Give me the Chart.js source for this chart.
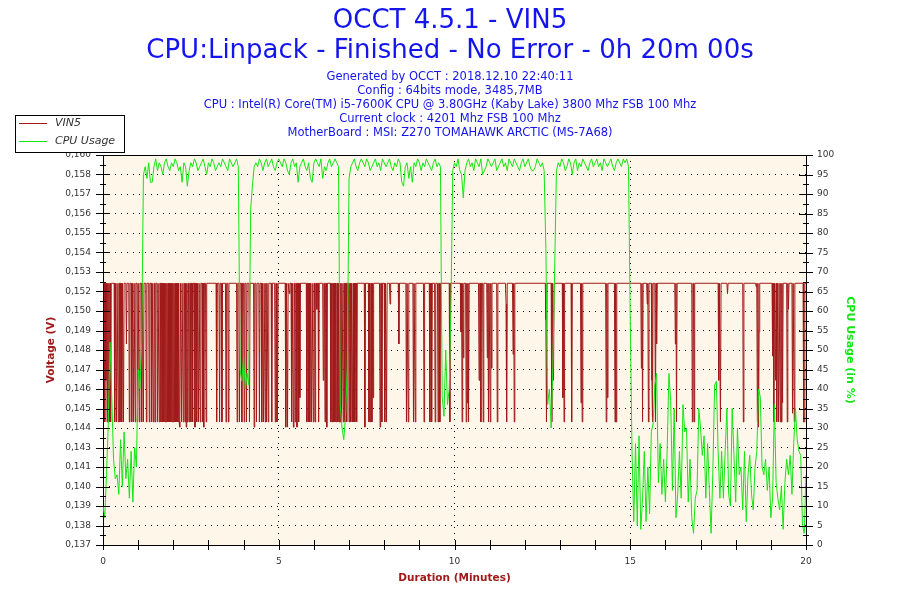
<!DOCTYPE html>
<html>
<head>
<meta charset="utf-8">
<title>OCCT 4.5.1 - VIN5</title>
<script src="https://cdn.jsdelivr.net/npm/chart.js@4.4.1/dist/chart.umd.min.js"></script>
<style>
  html, body { margin: 0; padding: 0; background: #fff; }
  canvas { display: block; }
</style>
</head>
<body>
<canvas id="chart" width="900" height="600"></canvas>
<script>
// header texts
const titleLines = ['OCCT 4.5.1 - VIN5', 'CPU:Linpack - Finished - No Error - 0h 20m 00s'];
const infoLines = [
  'Generated by OCCT : 2018.12.10 22:40:11',
  'Config : 64bits mode, 3485,7MB',
  'CPU : Intel(R) Core(TM) i5-7600K CPU @ 3.80GHz (Kaby Lake) 3800 Mhz FSB 100 Mhz',
  'Current clock : 4201 Mhz FSB 100 Mhz',
  'MotherBoard : MSI: Z270 TOMAHAWK ARCTIC (MS-7A68)'
];

// left axis: 20 equal steps, labels rounded the way OCCT prints them
const voltMin = 0.137;
const voltMax = 0.1595;
const voltTickLabels = ['0,137', '0,138', '0,139', '0,140', '0,141', '0,143', '0,144', '0,145', '0,146', '0,147',
  '0,148', '0,149', '0,150', '0,152', '0,153', '0,154', '0,155', '0,156', '0,157', '0,158', '0,160'];

const durationMax = 20;
const durationLabels = [0, 5, 10, 15, 20];

// VIN5 in volts: resting level, and the one-second drops (seconds from start)
const vinIdle = 0.1521;
const vinFullDrop = 0.1441;
const vinDropSec = [
  3, 7, 9, 11, 13, 20, 23, 26, 29, 32, 35, 45, 49, 52, 55, 59, 62, 66, 69, 74, 79, 83, 86, 89, 93, 96, 99, 102,
  104, 106, 108, 110, 112, 114, 116, 118, 120, 122, 124, 126, 128, 130, 134, 137, 140, 144, 147, 150, 153, 160,
  163, 166, 170, 176, 194, 199, 203, 210, 214, 229, 233, 237, 241, 245, 250, 262, 267, 271, 274, 277, 279, 282,
  288, 294, 297,
  322, 328, 334, 348, 351, 353, 356, 359, 362, 368, 379, 389, 391, 394, 396, 398, 401, 403, 405, 407, 410, 413,
  416, 420, 423, 426, 428, 430, 433, 454, 456, 459, 476, 481, 484, 518, 521, 530, 533, 548, 558, 561, 567, 572, 575,
  592, 613, 620, 624, 645, 649, 658, 661, 673, 689, 702, 757, 766, 787, 800, 818, 859, 874, 876,
  921, 931, 938, 943, 979, 1006, 1009, 1054, 1093, 1117, 1145, 1150, 1153, 1156, 1158, 1168, 1180, 1196, 1197
];
// drops that stop at another level
const vinOtherSec = [
  5, 40, 131, 142, 157, 172, 258,
  298, 312, 315, 318, 325, 331, 336, 365, 376, 382, 447, 461, 473, 490, 505,
  611, 615, 622, 642, 656, 663, 688, 700, 756, 769, 785, 816, 861,
  919, 929, 937, 945, 977, 1051, 1066, 1115, 1119, 1120, 1143, 1148, 1160, 1170, 1177
];
const vinOtherLow = [
  0.1465, 0.1486, 0.1438, 0.1438, 0.1438, 0.1438, 0.1438,
  0.1452, 0.1438, 0.1438, 0.1515, 0.1438, 0.1438, 0.1455, 0.1506, 0.1465, 0.1438, 0.1438, 0.1455, 0.1438, 0.1509, 0.1486,
  0.1493, 0.1478, 0.1452, 0.1465, 0.1478, 0.1472, 0.1509, 0.1480, 0.1500, 0.1465, 0.1455, 0.1452, 0.1455,
  0.1472, 0.1509, 0.1465, 0.1486, 0.1486, 0.1465, 0.1515, 0.1519, 0.1438, 0.1493, 0.1479, 0.1465, 0.1452, 0.1506, 0.1446
];

// CPU usage in %, one reading every 3 seconds (0.05 min)
const cpuStepMin = 0.05;
const cpuUsage = [
  10, 7, 18, 31, 52, 38, 22, 17, 18, 13, 27, 15, 29, 17, 22, 12, 24, 11, 25, 20, 45, 40, 52, 95,
  97, 94, 98, 93, 93, 97, 99, 96, 98, 97, 95, 98, 99, 97, 96, 98, 97, 99, 98, 96,
  97, 93, 98, 97, 92, 96, 98, 97, 99, 98, 96, 97, 98, 99, 97, 95, 98, 97, 99, 98,
  96, 97, 98, 97, 99, 98, 97, 96, 99, 98, 97, 98, 99, 97,
  45, 42, 48, 40, 44, 41, 86, 92, 97,
  98, 97, 99, 98, 96, 98, 99, 97, 98, 99, 97, 96, 98, 99, 98, 97, 99, 98, 96, 95,
  98, 99, 97, 98, 93, 97, 98, 99, 97, 96, 98, 94, 93, 98, 99, 98, 97, 99, 94, 97,
  96, 98, 99, 97, 98, 99, 98, 97,
  36, 30, 27, 33, 46, 94,
  97, 98, 99, 97, 96, 98, 99, 98, 97, 99, 98, 96, 97, 98, 99, 97, 98, 96, 99, 98,
  97, 98, 99, 97, 96, 98, 97, 99, 98, 93, 92, 97, 98, 94, 97, 93, 98, 97, 99, 98,
  96, 98, 97, 99, 98, 97, 96, 98, 99, 97, 98, 97,
  38, 33, 50, 36, 40, 62, 96,
  98, 97, 99, 96, 95, 89, 96, 98, 99, 97, 98, 96, 99, 98, 97, 99, 95, 96, 97, 99,
  98, 97, 98, 99, 96, 97, 98, 99, 97, 98, 96, 99, 98, 97, 99, 98, 97, 96, 98, 99,
  97, 98, 99, 97, 96, 96, 97, 99, 98, 97, 98, 96,
  76, 36, 40, 30, 46, 71, 96,
  98, 97, 99, 98, 96, 97, 99, 98, 95, 98, 99, 96, 98, 97, 99, 98, 97, 96, 98, 99,
  97, 98, 99, 97, 98, 96, 99, 98, 97, 98, 99, 97, 96, 98, 99, 98, 97, 99, 98, 99, 97,
  58, 24, 6, 26, 5, 28, 4, 12, 24, 6, 20, 8, 29, 31, 41, 44, 16, 26, 13, 22,
  11, 24, 44, 37, 14, 35, 7, 13, 24, 12, 36, 29, 30, 11, 22, 7, 3, 12, 14, 35,
  30, 23, 28, 12, 26, 14, 3, 19, 41, 42, 24, 12,
  24, 12, 24, 35, 13, 10, 35, 23, 11, 30, 18, 20, 9, 24, 6, 18, 23, 13, 9, 20,
  24, 40, 38, 20, 18, 22, 14, 20, 7, 12, 36, 16, 12, 9, 15, 4, 16, 22, 18, 23,
  13, 26, 35, 27, 24, 23, 5, 3, 18
];

const vinColor = '#A01A1A';
const cpuColor = '#14E614';
const headColor = '#1414EC';
const tickColor = '#333';
const fam = '"DejaVu Sans", Verdana, sans-serif';

// VIN5 line: stays at the idle level between drops
const drops = vinDropSec.map(s => [s, vinFullDrop])
  .concat(vinOtherSec.map((s, i) => [s, vinOtherLow[i]]))
  .sort((a, b) => a[0] - b[0]);
const vinPoints = [{x: 0, y: vinIdle}];
drops.forEach(([s, v], i) => {
  const last = vinPoints[vinPoints.length - 1];
  if (last.x < (s - 1) / 60) vinPoints.push({x: (s - 1) / 60, y: vinIdle});
  vinPoints.push({x: s / 60, y: v});
  const next = drops[i + 1];
  if (!next || next[0] > s + 1) vinPoints.push({x: (s + 1) / 60, y: vinIdle});
});
vinPoints.push({x: durationMax, y: vinIdle});

const cpuPoints = cpuUsage.map((v, i) => ({x: i * cpuStepMin, y: v}));

const plotBackground = {
  id: 'plotBackground',
  beforeDraw(chart) {
    const {ctx, chartArea: a} = chart;
    ctx.save();
    ctx.fillStyle = '#fff';
    ctx.fillRect(0, 0, chart.width, chart.height);
    ctx.fillStyle = '#FDF6E9';
    ctx.fillRect(a.left, a.top, a.right - a.left, a.bottom - a.top);
    ctx.restore();
  }
};

// tick marks that cross the axis lines, plus the top frame line
const crossTicks = {
  id: 'crossTicks',
  afterDraw(chart) {
    const {ctx, chartArea: a, scales} = chart;
    ctx.save();
    ctx.strokeStyle = '#000';
    ctx.lineWidth = 1;
    ctx.beginPath();
    const vertical = (scale, x0, big, small) => {
      const t = scale.ticks;
      t.forEach((tk, i) => {
        const p = Math.round(scale.getPixelForValue(tk.value)) + 0.5;
        ctx.moveTo(x0 - big, p); ctx.lineTo(x0 + big, p);
        if (i < t.length - 1) {
          const m = Math.round(scale.getPixelForValue((tk.value + t[i + 1].value) / 2)) + 0.5;
          ctx.moveTo(x0 - small, m); ctx.lineTo(x0 + small, m);
        }
      });
    };
    vertical(scales.y, a.left, 7, 3);
    vertical(scales.y2, a.right, 7, 3);
    scales.x.ticks.forEach(tk => {
      const p = Math.round(scales.x.getPixelForValue(tk.value)) + 0.5;
      ctx.moveTo(p, a.bottom - 5); ctx.lineTo(p, a.bottom + 5);
    });
    const top = Math.round(a.top) + 0.5;
    ctx.moveTo(a.left, top); ctx.lineTo(a.right + 1, top);
    ctx.stroke();
    ctx.restore();
  }
};

const boxLegend = {
  id: 'boxLegend',
  afterDraw(chart) {
    const ctx = chart.ctx;
    ctx.save();
    ctx.fillStyle = '#fff';
    ctx.fillRect(15, 115, 109, 37);
    ctx.strokeStyle = '#000';
    ctx.lineWidth = 1;
    ctx.strokeRect(15.5, 115.5, 109, 37);
    ctx.font = 'italic 11px ' + fam;
    ctx.textBaseline = 'middle';
    chart.data.datasets.forEach((ds, i) => {
      const y = 123.5 + i * 18;
      ctx.strokeStyle = ds.borderColor;
      ctx.beginPath();
      ctx.moveTo(19, y); ctx.lineTo(47, y);
      ctx.stroke();
      ctx.fillStyle = '#333';
      ctx.fillText(ds.label, 55, y);
    });
    ctx.restore();
  }
};

const clear = 'rgba(0,0,0,0)';

new Chart(document.getElementById('chart'), {
  type: 'line',
  data: {
    datasets: [
      {label: 'VIN5', data: vinPoints, yAxisID: 'y', borderColor: vinColor, borderWidth: 1,
       pointRadius: 0, tension: 0, order: 2},
      {label: 'CPU Usage', data: cpuPoints, yAxisID: 'y2', borderColor: cpuColor, borderWidth: 1,
       pointRadius: 0, tension: 0, order: 1}
    ]
  },
  options: {
    responsive: false,
    animation: false,
    devicePixelRatio: 1,
    events: [],
    layout: {padding: 0},
    plugins: {
      legend: {display: false},
      tooltip: {enabled: false},
      title: {
        display: true, text: titleLines, color: headColor,
        font: {family: fam, size: 26, weight: 'normal', lineHeight: 30 / 26},
        padding: {top: 6, bottom: 4}
      },
      subtitle: {
        display: true, text: infoLines, color: headColor,
        font: {family: fam, size: 11.5, weight: 'normal', lineHeight: 14 / 11.5},
        padding: {top: 0, bottom: 15}
      }
    },
    scales: {
      x: {
        type: 'linear', min: 0, max: durationMax,
        afterFit: s => { s.height = 55; },
        ticks: {
          stepSize: 1, autoSkip: false, maxRotation: 0, padding: 4, color: tickColor,
          font: {family: fam, size: 9},
          callback: v => durationLabels.includes(v) ? String(v) : ''
        },
        grid: {
          color: c => (c.tick && durationLabels.includes(c.tick.value)) ? '#000' : clear,
          tickColor: clear, tickLength: 7
        },
        border: {color: '#000', dash: [1, 5]},
        title: {
          display: true, text: 'Duration (Minutes)', color: vinColor,
          font: {family: fam, size: 10.5, weight: 'bold'}, padding: {top: 0, bottom: 15}
        }
      },
      y: {
        type: 'linear', position: 'left', min: voltMin, max: voltMax,
        afterFit: s => { s.width = 103; },
        ticks: {
          count: voltTickLabels.length, autoSkip: false, padding: 4, color: tickColor,
          font: {family: fam, size: 9},
          callback: (v, i) => voltTickLabels[i]
        },
        grid: {drawOnChartArea: false, tickColor: clear, tickLength: 8},
        border: {color: '#000'},
        title: {
          display: true, text: 'Voltage (V)', color: vinColor,
          font: {family: fam, size: 10.5, weight: 'bold'}, padding: {top: 45, bottom: 0}
        }
      },
      y2: {
        type: 'linear', position: 'right', min: 0, max: 100,
        afterFit: s => { s.width = 94; },
        ticks: {stepSize: 5, autoSkip: false, padding: 4, color: tickColor, font: {family: fam, size: 9}},
        grid: {color: '#000', tickColor: clear, tickLength: 7},
        border: {color: '#000', dash: [1, 5]},
        title: {
          display: true, text: 'CPU Usage (in %)', color: cpuColor,
          font: {family: fam, size: 11, weight: 'bold'}, padding: {top: 44, bottom: 0}
        }
      }
    }
  },
  plugins: [plotBackground, crossTicks, boxLegend]
});
</script>
</body>
</html>
